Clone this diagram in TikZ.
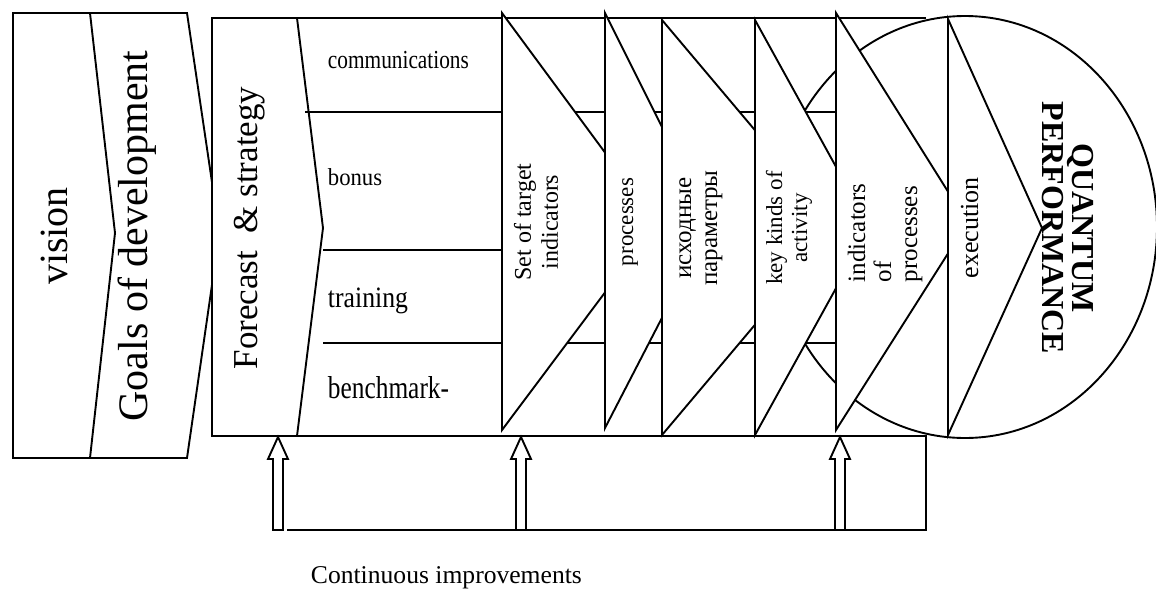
\documentclass[tikz,border=0pt]{standalone}
\usepackage{fontspec}
\setmainfont{Liberation Serif}
\usepackage{graphicx}
\newcommand\hsq[2]{\scalebox{#1}[1]{#2}}
\newcommand\fs[2]{\fontsize{#1}{#2}\selectfont}
\begin{document}
\begin{tikzpicture}[x=1pt,y=-1pt,line width=1.9pt,
  shp/.style={draw,fill=white},
  lbl/.style={inner sep=0,anchor=base west},
  vtxt/.style={rotate=90,inner sep=0},
  uparr/.pic={\draw[fill=white] (-5,93) -- (-5,22) -- (-10,22) -- (0,0) -- (10,22) -- (5,22) -- (5,93) -- cycle;}]
\useasboundingbox (0,0) rectangle (1156,589);
% vision / goals
\draw[shp] (13,13) -- (187,13) -- (219.5,233) -- (187,458) -- (13,458) -- cycle;
\draw (90,13) -- (115,233) -- (90,458);
% forecast box background
\fill[white] (212,18) rectangle (926,436);
% performance circle
\draw (965,227) ellipse [x radius=192pt, y radius=211pt];
% forecast box and feedback loop
\draw (926,18) -- (212,18) -- (212,436) -- (926,436) -- (926,530) -- (287,530);
\draw (297,18) -- (323,228) -- (297,436);
\draw (305,112) -- (837,112);
\draw (323,250) -- (502,250);
\draw (323,343) -- (837,343);
% stage triangles
\draw[shp] (502,13) -- (657,223) -- (502,430) -- cycle;
\draw[shp] (605,13) -- (710.5,224) -- (605,428) -- cycle;
\draw[shp] (662,20) -- (837,227.5) -- (662,435) -- cycle;
\draw[shp] (755,20) -- (869.5,227.5) -- (755,435) -- cycle;
\draw[shp] (836,13) -- (967.5,222.7) -- (836,430) -- cycle;
\draw[shp] (948,19) -- (1042,228) -- (948,435) -- cycle;
% improvement arrows
\coordinate (a1) at (278,437);
\coordinate (a2) at (521,437);
\coordinate (a3) at (840,437);
\pic at (a1) {uparr};
\pic at (a2) {uparr};
\pic at (a3) {uparr};
% texts
\node[vtxt,anchor=base,font=\fs{40}{48}] (vision) at (67,236) {vision};
\node[vtxt,anchor=base,font=\fs{42}{50}] (goals) at (147,236) {Goals of development};
\node[vtxt,anchor=base,font=\fs{35}{42}] (forecast) at (257,228) {Forecast\ \ \& strategy};
\node[lbl,font=\fs{26}{30}] (comm) at (327,68) {\hsq{0.82}{communications}};
\node[lbl,font=\fs{24.4}{28}] (bonus) at (327,185) {\hsq{0.93}{bonus}};
\node[lbl,font=\fs{29.6}{34}] (training) at (327,307) {\hsq{0.87}{training}};
\node[lbl,font=\fs{31.7}{36}] (bench) at (327,398) {\hsq{0.8}{benchmark-}};
\node[vtxt,align=center,font=\fs{24}{27}] (t1) at (536,222) {Set of target\\indicators};
\node[vtxt,anchor=base,font=\fs{23}{27}] (t2) at (633,222) {processes};
\node[vtxt,align=center,font=\fs{25}{26}] (t3) at (701,228) {исходные\\параметры};
\node[vtxt,align=center,font=\fs{23}{25}] (t4) at (789,228) {key kinds of\\activity};
\node[vtxt,align=left,anchor=west,font=\fs{25}{26}] (t5) at (885,283) {indicators\\of\\processes};
\node[vtxt,anchor=base,font=\fs{26}{30}] (t6) at (978,228) {execution};
\node[rotate=-90,inner sep=0,align=center,font=\bfseries\fs{32}{30}] (qp) at (1068,228) {QUANTUM\\PERFORMANCE};
\node[lbl,font=\fs{25.6}{30}] (ci) at (310,583) {Continuous improvements};
\end{tikzpicture}
\end{document}
